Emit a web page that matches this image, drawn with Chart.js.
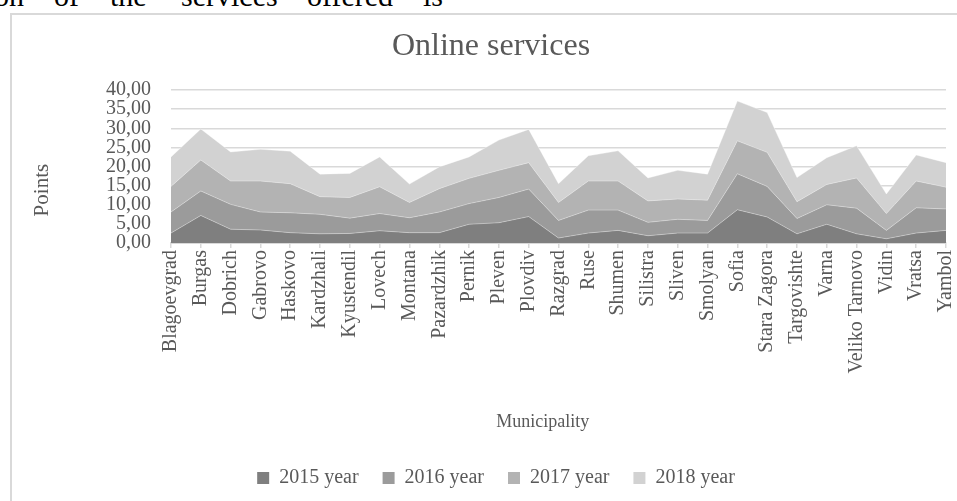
<!DOCTYPE html>
<html>
<head>
<meta charset="utf-8">
<script src="https://cdn.jsdelivr.net/npm/chart.js@4.4.1/dist/chart.umd.min.js"></script>
<style>
  body { margin: 0; overflow: hidden; background: #fff; width: 957px; height: 501px; position: relative; }
  .doc { position: absolute; top: -19px; font: 30px "Liberation Serif", "Times New Roman", serif; line-height: 30px; color: #000; white-space: nowrap; }
  #frame { position: absolute; left: 10px; top: 13px; width: 990px; height: 500px; border: 2px solid #d9d9d9; }
  #wrap { position: absolute; left: 12px; top: 15px; width: 960px; height: 486px; }
</style>
</head>
<body>
<span class="doc" style="left:-6px">on</span>
<span class="doc" style="left:54px">of</span>
<span class="doc" style="left:110px">the</span>
<span class="doc" style="left:181px">services</span>
<span class="doc" style="left:307px">offered</span>
<span class="doc" style="left:423px">is</span>
<div id="frame"></div>
<div id="wrap"><canvas id="myChart"></canvas></div>
<script>
const ctx = document.getElementById('myChart');

const municipalities = ["Blagoevgrad", "Burgas", "Dobrich", "Gabrovo", "Haskovo", "Kardzhali",
  "Kyustendil", "Lovech", "Montana", "Pazardzhik", "Pernik", "Pleven", "Plovdiv", "Razgrad",
  "Ruse", "Shumen", "Silistra", "Sliven", "Smolyan", "Sofia", "Stara Zagora", "Targovishte",
  "Varna", "Veliko Tarnovo", "Vidin", "Vratsa", "Yambol"];

const y2015 = [2.6, 7.2, 3.6, 3.4, 2.7, 2.4, 2.5, 3.2, 2.7, 2.7, 4.9, 5.3, 6.9, 1.3, 2.6, 3.3, 1.9, 2.6, 2.6, 8.7, 6.8, 2.4, 4.9, 2.4, 1.1, 2.6, 3.3];
const y2016 = [5.5, 6.4, 6.5, 4.7, 5.2, 5.1, 4.0, 4.5, 3.9, 5.4, 5.4, 6.6, 7.2, 4.6, 6.0, 5.3, 3.5, 3.6, 3.3, 9.4, 8.0, 4.0, 5.1, 6.7, 2.2, 6.6, 5.6];
const y2017 = [6.7, 8.1, 6.1, 8.1, 7.6, 4.6, 5.4, 7.0, 4.0, 6.1, 6.6, 7.1, 6.9, 4.7, 7.6, 7.6, 5.6, 5.3, 5.3, 8.6, 8.9, 4.4, 5.3, 7.9, 4.4, 7.0, 5.7];
const y2018 = [7.7, 8.1, 7.6, 8.3, 8.5, 5.9, 6.3, 7.8, 4.8, 5.7, 5.6, 7.9, 8.7, 4.9, 6.6, 7.9, 6.0, 7.5, 6.8, 10.4, 10.4, 6.3, 7.0, 8.4, 5.1, 6.8, 6.4];

const seriesNames = ["2015 year", "2016 year", "2017 year", "2018 year"];
const yTickLabels = ["0,00", "5,00", "10,00", "15,00", "20,00", "25,00", "30,00", "35,00", "40,00"];

const fills = ["#7f7f7f", "#9b9b9b", "#b3b3b3", "#d2d2d2"];
const serif = "'Liberation Serif', 'Times New Roman', serif";
const textGray = "#595959";

function area(i, values) {
  return {
    label: seriesNames[i],
    data: values,
    backgroundColor: fills[i],
    borderColor: "rgba(255,255,255,0.35)",
    borderWidth: 1,
    pointRadius: 0,
    tension: 0,
    fill: i === 0 ? 'origin' : '-1'
  };
}

// nudge the legend row and the title a little to the right, like the original
const boxShift = {
  id: 'boxShift',
  afterLayout(chart) {
    chart.legend.left += 17;
    chart.legend.right += 17;
    chart.titleBlock.left += 12;
    chart.titleBlock.right += 12;
  }
};

myChart = new Chart(ctx, {
  type: "line",
  data: {
    labels: municipalities,
    datasets: [area(0, y2015), area(1, y2016), area(2, y2017), area(3, y2018)]
  },
  plugins: [boxShift],
  options: {
    responsive: true,
    maintainAspectRatio: false,
    animation: false,
    layout: { padding: { left: 0, right: 26, top: 0, bottom: 3 } },
    scales: {
      x: {
        offset: false,
        afterFit: (s) => { s.height = 201; },
        grid: { drawOnChartArea: false, drawTicks: true, tickLength: 5, color: "#d9d9d9", lineWidth: 1.5 },
        border: { display: true, color: "#d9d9d9", width: 2 },
        ticks: {
          autoSkip: false, maxRotation: 90, minRotation: 90, padding: 2,
          color: textGray, font: { family: serif, size: 20 }
        },
        title: {
          display: true, text: "Municipality" + "       ", color: textGray,
          font: { family: serif, size: 18 }, padding: { top: 12, bottom: 11 }
        }
      },
      y: {
        stacked: true,
        min: 0,
        max: 40,
        afterFit: (s) => { s.width = 159; },
        grid: { color: "#d9d9d9", lineWidth: 1.5, drawTicks: false },
        border: { display: false },
        ticks: {
          stepSize: 5, autoSkip: false, padding: 20,
          color: textGray, font: { family: serif, size: 20 },
          callback: (v) => yTickLabels[v / 5]
        },
        title: {
          display: true, text: "Points" + "         ", color: textGray,
          font: { family: serif, size: 21 }, padding: { top: 18, bottom: 0 }
        }
      }
    },
    plugins: {
      title: {
        display: true, text: "Online services", color: textGray,
        font: { family: serif, size: 32, weight: 'normal' },
        padding: { top: 12.8, bottom: 23.8 }
      },
      legend: {
        position: 'bottom',
        labels: {
          boxWidth: 12, boxHeight: 12, padding: 24,
          color: textGray, font: { family: serif, size: 20 },
          generateLabels: (chart) => Chart.defaults.plugins.legend.labels.generateLabels(chart)
            .map(l => Object.assign(l, { lineWidth: 0, strokeStyle: l.fillStyle }))
        }
      },
      tooltip: { enabled: false }
    }
  }
});
</script>
</body>
</html>
